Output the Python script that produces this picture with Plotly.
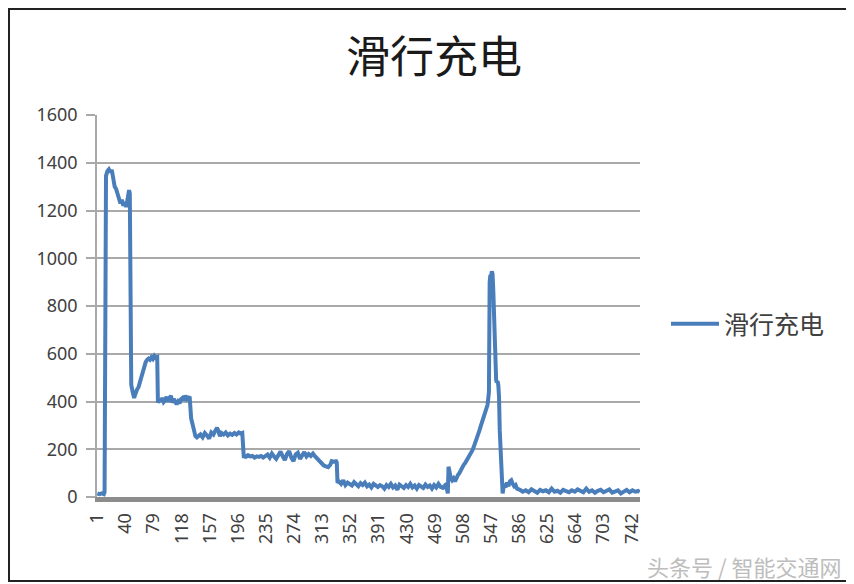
import plotly.graph_objects as go

# sample number (category) and value
sample_no = [
    1, 4, 7, 10, 11, 12, 13, 15, 17, 19, 21, 23, 25, 27, 29, 31, 33, 35, 37, 39, 41, 43, 44, 45, 46,
    47, 48, 50, 52, 53, 54, 56, 58, 60, 62, 64, 66, 68, 70, 72, 74, 76, 78, 80, 82, 84,
    85, 87, 89, 91, 93, 95, 97, 99, 101, 103, 105, 107, 109, 111, 113, 115, 117, 119, 121, 123, 125, 127, 129,
    131, 133, 135, 137, 139,
    141, 144, 147, 150, 153, 156, 159, 162, 165, 167, 169, 171, 173, 176, 179, 182, 185, 188, 191, 194, 197, 200, 202,
    203, 204, 207, 210, 213, 216, 219, 222, 225, 228, 231, 234,
    237, 240, 243, 246, 249, 252, 255, 258, 261, 264, 267, 270, 273, 276, 279, 282, 285, 288, 291, 294, 297, 300,
    303, 306, 309, 312, 315, 318, 321, 324, 326, 329, 332, 333,
    334, 336, 339, 342, 345, 348, 351, 354, 357, 360, 363, 366, 369, 372, 375, 378, 381, 384, 387, 390, 393,
    396, 399, 402, 405, 408, 411, 414, 417, 420, 423, 426, 429, 432, 435, 438, 441, 444, 447, 450, 453, 456,
    459, 462, 465, 468, 471, 474, 477, 480, 483, 486,
    487, 488, 489, 490, 491, 493, 495, 497, 499,
    501, 503, 505, 507, 509, 511, 513, 515, 517, 519, 521, 523, 525, 527, 529, 531, 533, 535, 537, 539, 541,
    542, 543, 544, 545, 546, 547, 548, 549, 550, 551, 552, 553, 554, 555, 556, 557, 558, 559, 560, 561, 562, 563,
    565, 567, 569, 571, 573, 575, 577, 579, 581, 583,
    587, 591, 595, 599, 603, 607, 611, 615, 619, 623, 627, 631, 635, 639, 643, 647, 651, 655, 659, 663,
    667, 671, 675, 679, 683, 687, 691, 695, 699, 703, 707, 711, 715, 719, 723, 727, 731, 735, 739, 743,
    747, 751, 753,
]
charge = [
    15, 12, 15, 12, 20, 700, 1345, 1365, 1372, 1360, 1370, 1335, 1300, 1290, 1265, 1250, 1230, 1245, 1220, 1235, 1215, 1250, 1275, 1285, 1270,
    480, 470, 440, 415, 425, 440, 450, 460, 480, 505, 530, 550, 565, 575, 580, 575, 585, 578, 590, 582, 585,
    395, 410, 400, 415, 398, 405, 420, 400, 410, 425, 395, 410, 400, 388, 400, 392, 410, 415, 405, 425, 410, 418, 420,
    330, 300, 270, 255, 250,
    255, 262, 250, 268, 258, 245, 270, 262, 280, 290, 275, 255, 268, 262, 270, 258, 265, 260, 268, 262, 270, 265, 268,
    172, 170, 168, 175, 170, 172, 165, 170, 168, 172, 165, 170,
    178, 165, 182, 170, 160, 175, 190, 170, 155, 180, 192, 165, 150, 178, 185, 160, 175, 188, 170, 180, 172, 182,
    170, 160, 150, 140, 132, 128, 125, 135, 150, 148, 150, 145,
    60, 65, 55, 70, 50, 60, 55, 48, 62, 52, 45, 58, 50, 60, 45, 52, 40, 55, 48, 42, 50,
    45, 35, 50, 42, 55, 40, 48, 30, 52, 45, 38, 50, 42, 55, 40, 48, 35, 50, 45, 38, 52,
    42, 48, 35, 50, 40, 55, 42, 38, 48, 30,
    15, 127, 105, 90, 80, 70, 78, 65, 85,
    92, 100, 113, 120, 135, 142, 152, 160, 172, 180, 195, 210, 225, 245, 260, 280, 300, 318, 335, 355, 375,
    385, 410, 440, 900, 930, 925, 945, 935, 870, 760, 620, 500, 490, 480, 485, 470, 420, 280, 200, 110, 40, 15,
    55, 40, 60, 45, 65, 70, 55, 45, 50, 35,
    30, 22, 28, 20, 32, 25, 18, 30, 24, 28, 20, 35, 22, 26, 18, 30, 24, 20, 28, 22,
    32, 25, 20, 35, 22, 28, 18, 26, 30, 20, 25, 32, 18, 24, 28, 15, 25, 30, 20, 28,
    22, 25, 20,
]

x_ticks = [1, 40, 79, 118, 157, 196, 235, 274, 313, 352, 391, 430, 469, 508, 547, 586, 625, 664, 703, 742]
y_ticks = [0, 200, 400, 600, 800, 1000, 1200, 1400, 1600]

title = "滑行充电"
series_name = "滑行充电"
watermark = "头条号 / 智能交通网"

line_blue = "#4a7ebb"
grid_gray = "#a9a9a9"
cjk = "Noto Sans CJK SC"

fig = go.Figure(
    go.Scatter(
        x=sample_no,
        y=charge,
        mode="lines",
        name=series_name,
        line=dict(color=line_blue, width=4),
    )
)

# the page body adds 8px, so the figure is 846x576 and every position is reference-8
# plot area (figure px): left 89, right 632, top 107, bottom 489
pl, pr, pt, pb = 89, 632, 107, 489
pw, ph = pr - pl, pb - pt
W, H = 846, 576

fig.update_layout(
    width=W,
    height=H,
    margin=dict(l=pl, r=W - pr, t=pt, b=H - pb),
    paper_bgcolor="white",
    plot_bgcolor="white",
    font=dict(family=cjk, color="#404040"),
    title=dict(
        text=title,
        x=(434 - 8) / W,
        xanchor="center",
        y=1 - (58 - 8) / H,
        yanchor="middle",
        font=dict(size=44, color="#1a1a1a", family=cjk),
    ),
    xaxis=dict(
        range=[0.5, 753.5],
        tickmode="array",
        tickvals=x_ticks,
        ticktext=[str(t) for t in x_ticks],
        tickangle=-90,
        tickfont=dict(size=18, color="#404040", family="Noto Sans"),
        showgrid=False,
        zeroline=False,
        showline=True,
        linecolor="#8c8c8c",
        linewidth=5,
        ticks="",
        ticklabelstandoff=4,
    ),
    yaxis=dict(
        range=[0, 1600],
        tickmode="array",
        tickvals=y_ticks,
        tickfont=dict(size=18, color="#404040", family="Noto Sans"),
        showgrid=True,
        gridcolor=grid_gray,
        gridwidth=1.5,
        zeroline=False,
        showline=True,
        linecolor=grid_gray,
        linewidth=1.5,
        ticks="outside",
        ticklen=9,
        tickcolor=grid_gray,
        tickwidth=1.5,
        ticklabelstandoff=5,
    ),
    showlegend=True,
    legend=dict(
        x=(666 - 8 - pl) / pw,
        xanchor="left",
        y=(pb - (324 - 8)) / ph,
        yanchor="middle",
        itemwidth=48,
        font=dict(size=25, color="#404040", family=cjk),
        bgcolor="rgba(0,0,0,0)",
    ),
)

# outer frame of the picture
fig.add_shape(
    type="rect",
    xref="paper",
    yref="paper",
    x0=(1 - pl) / pw,
    x1=(843 - pl) / pw,
    y0=(pb - 573) / ph,
    y1=(pb - 1) / ph,
    line=dict(color="#222222", width=2),
    fillcolor="rgba(0,0,0,0)",
    layer="above",
)

fig.add_annotation(
    text=watermark,
    xref="paper",
    yref="paper",
    x=(744 - 8 - pl) / pw,
    y=(pb - (566 - 8)) / ph,
    xanchor="center",
    yanchor="middle",
    showarrow=False,
    font=dict(size=22, color="#bdbdbd", family=cjk),
)

fig.write_html("out.html")
